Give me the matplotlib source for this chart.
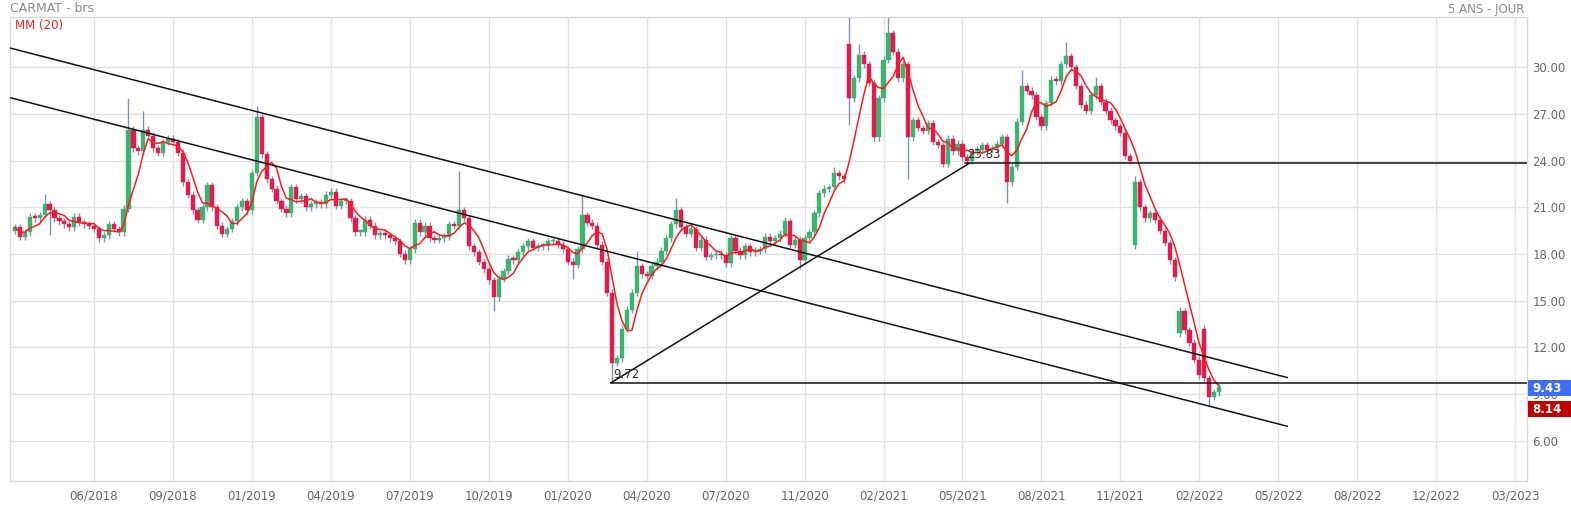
import numpy as np
import pandas as pd
import matplotlib
matplotlib.use("Agg")
import matplotlib.pyplot as plt
from matplotlib.patches import Rectangle
import matplotlib.transforms as mtransforms

# ---------------- data (one candle ~ 4 trading days) ----------------
close = [19.7, 19.1, 19.4, 20.4, 20.3, 20.5, 21.2, 20.8, 20.3, 20.1,
         19.9, 19.7, 20.4, 20.0, 19.9, 19.8, 19.6, 19.0, 19.2, 19.9,
         19.6, 19.4, 20.9, 26.0, 24.8, 24.6, 26.0, 25.6, 24.8, 24.5,
         25.2, 25.4, 25.2, 24.5, 22.6, 21.8, 20.8, 20.2, 21.0, 22.4,
         21.0, 19.8, 19.3, 19.6, 20.1, 21.0, 21.4, 20.8, 23.2, 26.8,
         24.4, 22.8, 22.2, 21.4, 20.9, 20.6, 22.3, 21.5, 21.7, 21.0,
         21.2, 21.3, 21.2, 21.8, 22.0, 21.1, 21.4, 21.4, 20.3, 19.4,
         19.4, 20.2, 19.8, 19.2, 19.3, 19.2, 19.0, 18.8, 18.0, 17.6,
         18.3, 20.0, 19.4, 19.8, 19.0, 18.9, 19.0, 19.1, 19.9, 19.8,
         20.8, 20.3, 18.5, 18.1, 17.5, 17.0, 16.3, 15.2, 16.4, 16.9,
         17.7, 17.6, 18.1, 18.5, 18.8, 18.4, 18.5, 18.5, 18.8, 18.8,
         18.6, 18.3, 17.5, 17.3, 18.3, 20.5, 20.0, 19.8, 18.6, 17.5,
         15.5, 11.0, 11.3, 13.2, 14.4, 15.5, 17.2, 16.7, 16.6, 17.2,
         17.5, 18.2, 19.0, 19.9, 20.8, 19.7, 19.3, 19.6, 18.4, 18.9,
         17.8, 17.9, 18.0, 17.9, 17.4, 19.0, 18.2, 17.9, 18.5, 18.1,
         18.2, 18.3, 19.1, 18.8, 19.0, 19.3, 20.1, 18.6, 18.9, 17.6,
         19.0, 19.4, 20.6, 21.9, 22.2, 22.3, 23.2, 23.0, 22.8, 28.0,
         29.3, 30.8, 30.2, 29.0, 25.5, 28.0, 30.5, 32.2, 31.0, 29.3,
         30.2, 25.5, 26.6, 26.1, 25.9, 26.4, 25.2, 25.0, 23.8, 25.4,
         24.6, 25.1, 24.2, 24.0, 24.6, 24.7, 25.0, 24.7, 24.8, 25.1,
         25.5, 22.6, 23.6, 26.5, 28.8, 28.5, 28.2, 26.8, 26.2, 27.7,
         29.2, 29.1, 30.2, 30.7, 30.0, 28.8, 27.6, 27.2, 28.2, 28.8,
         27.8, 27.2, 26.6, 26.2, 25.8, 24.3, 24.0, 22.6, 21.0, 20.3,
         20.6, 20.2, 19.5, 18.7, 17.6, 16.5, 14.3, 13.1, 12.3, 11.2,
         10.2, 10.0, 8.8, 9.1, 9.43]
first_open = 19.5
gap_open = {169: 31.5, 227: 18.6, 236: 12.9, 241: 13.2}
high_spikes = {6: 21.85, 23: 28.0, 26: 27.2, 49: 27.5, 90: 23.3, 115: 21.8,
               126: 18.2, 134: 21.6, 156: 20.4, 166: 23.6, 169: 33.5, 171: 31.5,
               177: 33.5, 204: 29.8, 213: 31.6, 219: 29.4, 227: 23.0, 236: 14.6}
low_spikes = {7: 19.2, 97: 14.3, 113: 16.4, 121: 9.72, 159: 17.0, 169: 26.3,
              181: 22.8, 201: 21.3, 227: 18.3, 242: 8.2}
ma_window = 5          # 20 trading days = 5 candles of 4 days

tick_index = [16, 32, 48, 64, 80, 96, 112, 128, 144, 160, 176, 192, 208,
              224, 240, 256, 272, 288, 304]
tick_labels = ["06/2018", "09/2018", "01/2019", "04/2019", "07/2019", "10/2019",
               "01/2020", "04/2020", "07/2020", "11/2020", "02/2021", "05/2021",
               "08/2021", "11/2021", "02/2022", "05/2022", "08/2022", "12/2022",
               "03/2023"]
y_ticks = [6, 9, 12, 15, 18, 21, 24, 27, 30]

channel_upper = ([-1.0, 257.8], [31.24, 10.05])
channel_lower = ([-1.0, 257.8], [28.05, 6.92])
rise_line = ([120.8, 193.4], [9.72, 23.83])
level_low = (120.8, 9.72)
level_high = (192.6, 23.83)
last_price = 9.43
tag_red = 8.14

# ---------------- build OHLC ----------------
n = len(close)
x = np.arange(n)
c = np.array(close)
o = np.empty(n)
o[0] = first_open
o[1:] = c[:-1]
for k, v in gap_open.items():
    o[k] = v
wick = 0.22
h = np.maximum(o, c) + wick
l = np.minimum(o, c) - wick
for k, v in high_spikes.items():
    h[k] = v
for k, v in low_spikes.items():
    l[k] = v
ma = pd.Series(c).rolling(ma_window, min_periods=1).mean().values

# ---------------- figure ----------------
W, H = 1571, 505
fig = plt.figure(figsize=(W / 100, H / 100), dpi=100)
ax = fig.add_axes([10 / W, 1 - 481 / H, (1527 - 10) / W, (481 - 17) / H])
ax.set_xlim(-1.013, 306.4)
ax.set_ylim(3.396, 33.235)

grid_c = "#e2e2e2"
for s in ax.spines.values():
    s.set_color("#d9d9d9")
    s.set_linewidth(1)
ax.set_xticks(tick_index)
ax.set_xticklabels(tick_labels)
ax.set_yticks(y_ticks)
ax.set_yticklabels([f"{v:.2f}" for v in y_ticks])
ax.yaxis.tick_right()
ax.tick_params(axis="both", length=0, labelsize=8.5, colors="#666666")
ax.tick_params(axis="y", pad=4)
ax.tick_params(axis="x", pad=6)
ax.grid(True, color=grid_c, linewidth=1)
ax.set_axisbelow(True)

up = c >= o
red = "#e5194b"
green = "#3cb371"
ax.vlines(x, l, h, color="#7f93ab", linewidth=1, zorder=2)
body_b = np.minimum(o, c)
body_h = np.maximum(np.abs(c - o), 0.12)
ax.bar(x[up], body_h[up], bottom=body_b[up], width=0.85, color=green,
       edgecolor=green, linewidth=0.3, zorder=3)
ax.bar(x[~up], body_h[~up], bottom=body_b[~up], width=0.85, color=red,
       edgecolor=red, linewidth=0.3, zorder=3)
ax.plot(x, ma, color="#ff1a1a", linewidth=1.1, zorder=4)

lk = dict(color="#111111", linewidth=1.1, zorder=5)
ax.plot(*channel_upper, **lk)
ax.plot(*channel_lower, **lk)
ax.plot(*rise_line, **lk)
ax.plot([level_low[0], 306.4], [level_low[1]] * 2, **lk)
ax.plot([level_high[0], 306.4], [level_high[1]] * 2, **lk)
ax.text(level_low[0] + 0.4, level_low[1] + 0.12, f"{level_low[1]:.2f}",
        fontsize=8.5, color="#333333", ha="left", va="bottom", zorder=6)
ax.text(level_high[0] + 0.4, level_high[1] + 0.12, f"{level_high[1]:.2f}",
        fontsize=8.5, color="#333333", ha="left", va="bottom", zorder=6)

# price tags on the right
bt = mtransforms.blended_transform_factory(fig.transFigure, ax.transData)
tag_h = 16 / 15.55
for val, ypos, col in [(last_price, 9.36, "#3d6cf5"), (tag_red, 8.0, "#c00000")]:
    r = Rectangle((1528 / W, ypos - tag_h / 2), (W - 1528) / W, tag_h,
                  transform=bt, facecolor=col, edgecolor="none",
                  clip_on=False, zorder=10)
    ax.add_patch(r)
    ax.text(1532 / W, ypos, f"{val:.2f}", transform=bt, color="white",
            fontsize=8.5, fontweight="bold", ha="left", va="center",
            clip_on=False, zorder=11)

fig.text(10 / W, 1 - 9 / H, "CARMAT - brs", fontsize=9, color="#8a8a8a",
         ha="left", va="center")
fig.text(1524 / W, 1 - 9 / H, "5 ANS - JOUR", fontsize=8.5, color="#8a8a8a",
         ha="right", va="center")
fig.text(15 / W, 1 - 25 / H, "MM (20)", fontsize=8.5, color="#ff2020",
         ha="left", va="center")

fig.savefig("out.png", dpi=100)
